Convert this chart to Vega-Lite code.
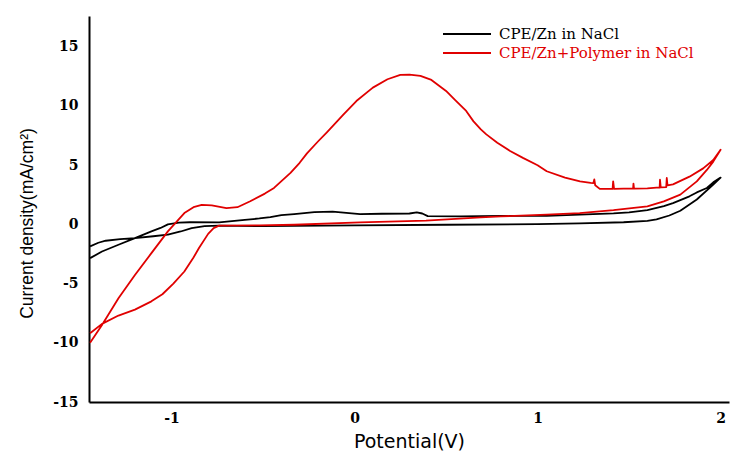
{
  "$schema": "https://vega.github.io/schema/vega-lite/v6.json",
  "autosize": {"type": "none"},
  "padding": {"left": 89, "top": 16, "right": 2, "bottom": 52},
  "width": 640,
  "height": 386,
  "background": "white",
  "config": {"view": {"stroke": null}},
  "datasets": {
    "cv": [
      {"s": "CPE/Zn in NaCl", "x": -1.445, "y": -1.86},
      {"s": "CPE/Zn in NaCl", "x": -1.40, "y": -1.55},
      {"s": "CPE/Zn in NaCl", "x": -1.36, "y": -1.38},
      {"s": "CPE/Zn in NaCl", "x": -1.28, "y": -1.25},
      {"s": "CPE/Zn in NaCl", "x": -1.20, "y": -1.16},
      {"s": "CPE/Zn in NaCl", "x": -1.10, "y": -1.0},
      {"s": "CPE/Zn in NaCl", "x": -1.02, "y": -0.87},
      {"s": "CPE/Zn in NaCl", "x": -0.95, "y": -0.6},
      {"s": "CPE/Zn in NaCl", "x": -0.89, "y": -0.31},
      {"s": "CPE/Zn in NaCl", "x": -0.82, "y": -0.15},
      {"s": "CPE/Zn in NaCl", "x": -0.74, "y": -0.11},
      {"s": "CPE/Zn in NaCl", "x": -0.5, "y": -0.15},
      {"s": "CPE/Zn in NaCl", "x": 0.0, "y": -0.08},
      {"s": "CPE/Zn in NaCl", "x": 0.5, "y": -0.03},
      {"s": "CPE/Zn in NaCl", "x": 1.0, "y": 0.02},
      {"s": "CPE/Zn in NaCl", "x": 1.23, "y": 0.08},
      {"s": "CPE/Zn in NaCl", "x": 1.47, "y": 0.18},
      {"s": "CPE/Zn in NaCl", "x": 1.60, "y": 0.3},
      {"s": "CPE/Zn in NaCl", "x": 1.65, "y": 0.42},
      {"s": "CPE/Zn in NaCl", "x": 1.72, "y": 0.75},
      {"s": "CPE/Zn in NaCl", "x": 1.78, "y": 1.15},
      {"s": "CPE/Zn in NaCl", "x": 1.87, "y": 2.1},
      {"s": "CPE/Zn in NaCl", "x": 1.96, "y": 3.36},
      {"s": "CPE/Zn in NaCl", "x": 2.0, "y": 3.95},
      {"s": "CPE/Zn in NaCl", "x": 1.96, "y": 3.55},
      {"s": "CPE/Zn in NaCl", "x": 1.925, "y": 3.07},
      {"s": "CPE/Zn in NaCl", "x": 1.87, "y": 2.7},
      {"s": "CPE/Zn in NaCl", "x": 1.83, "y": 2.37},
      {"s": "CPE/Zn in NaCl", "x": 1.74, "y": 1.8},
      {"s": "CPE/Zn in NaCl", "x": 1.69, "y": 1.55},
      {"s": "CPE/Zn in NaCl", "x": 1.60, "y": 1.2},
      {"s": "CPE/Zn in NaCl", "x": 1.50, "y": 1.02},
      {"s": "CPE/Zn in NaCl", "x": 1.415, "y": 0.93},
      {"s": "CPE/Zn in NaCl", "x": 1.23, "y": 0.82},
      {"s": "CPE/Zn in NaCl", "x": 1.05, "y": 0.72},
      {"s": "CPE/Zn in NaCl", "x": 0.80, "y": 0.72},
      {"s": "CPE/Zn in NaCl", "x": 0.58, "y": 0.68},
      {"s": "CPE/Zn in NaCl", "x": 0.40, "y": 0.7},
      {"s": "CPE/Zn in NaCl", "x": 0.37, "y": 0.92},
      {"s": "CPE/Zn in NaCl", "x": 0.34, "y": 1.02},
      {"s": "CPE/Zn in NaCl", "x": 0.30, "y": 0.92},
      {"s": "CPE/Zn in NaCl", "x": 0.15, "y": 0.9},
      {"s": "CPE/Zn in NaCl", "x": 0.03, "y": 0.87},
      {"s": "CPE/Zn in NaCl", "x": -0.12, "y": 1.07},
      {"s": "CPE/Zn in NaCl", "x": -0.22, "y": 1.03},
      {"s": "CPE/Zn in NaCl", "x": -0.33, "y": 0.87},
      {"s": "CPE/Zn in NaCl", "x": -0.40, "y": 0.78},
      {"s": "CPE/Zn in NaCl", "x": -0.46, "y": 0.62},
      {"s": "CPE/Zn in NaCl", "x": -0.52, "y": 0.5},
      {"s": "CPE/Zn in NaCl", "x": -0.60, "y": 0.38},
      {"s": "CPE/Zn in NaCl", "x": -0.74, "y": 0.17},
      {"s": "CPE/Zn in NaCl", "x": -0.90, "y": 0.18},
      {"s": "CPE/Zn in NaCl", "x": -0.96, "y": 0.15},
      {"s": "CPE/Zn in NaCl", "x": -1.02, "y": 0.0},
      {"s": "CPE/Zn in NaCl", "x": -1.06, "y": -0.3},
      {"s": "CPE/Zn in NaCl", "x": -1.11, "y": -0.59},
      {"s": "CPE/Zn in NaCl", "x": -1.20, "y": -1.16},
      {"s": "CPE/Zn in NaCl", "x": -1.29, "y": -1.72},
      {"s": "CPE/Zn in NaCl", "x": -1.38, "y": -2.29},
      {"s": "CPE/Zn in NaCl", "x": -1.445, "y": -2.85},
      {"s": "CPE/Zn+Polymer in NaCl", "x": -1.445, "y": -10.0},
      {"s": "CPE/Zn+Polymer in NaCl", "x": -1.38, "y": -8.5},
      {"s": "CPE/Zn+Polymer in NaCl", "x": -1.29, "y": -6.24},
      {"s": "CPE/Zn+Polymer in NaCl", "x": -1.20, "y": -4.27},
      {"s": "CPE/Zn+Polymer in NaCl", "x": -1.11, "y": -2.43},
      {"s": "CPE/Zn+Polymer in NaCl", "x": -1.02, "y": -0.59},
      {"s": "CPE/Zn+Polymer in NaCl", "x": -0.93, "y": 0.96},
      {"s": "CPE/Zn+Polymer in NaCl", "x": -0.88, "y": 1.45},
      {"s": "CPE/Zn+Polymer in NaCl", "x": -0.835, "y": 1.65},
      {"s": "CPE/Zn+Polymer in NaCl", "x": -0.78, "y": 1.6},
      {"s": "CPE/Zn+Polymer in NaCl", "x": -0.70, "y": 1.38},
      {"s": "CPE/Zn+Polymer in NaCl", "x": -0.64, "y": 1.45},
      {"s": "CPE/Zn+Polymer in NaCl", "x": -0.57, "y": 1.95},
      {"s": "CPE/Zn+Polymer in NaCl", "x": -0.49, "y": 2.6},
      {"s": "CPE/Zn+Polymer in NaCl", "x": -0.44, "y": 3.08},
      {"s": "CPE/Zn+Polymer in NaCl", "x": -0.35, "y": 4.35},
      {"s": "CPE/Zn+Polymer in NaCl", "x": -0.30, "y": 5.2},
      {"s": "CPE/Zn+Polymer in NaCl", "x": -0.26, "y": 6.0},
      {"s": "CPE/Zn+Polymer in NaCl", "x": -0.20, "y": 7.0},
      {"s": "CPE/Zn+Polymer in NaCl", "x": -0.15, "y": 7.8},
      {"s": "CPE/Zn+Polymer in NaCl", "x": -0.06, "y": 9.3},
      {"s": "CPE/Zn+Polymer in NaCl", "x": 0.01, "y": 10.42},
      {"s": "CPE/Zn+Polymer in NaCl", "x": 0.10, "y": 11.55},
      {"s": "CPE/Zn+Polymer in NaCl", "x": 0.18, "y": 12.26},
      {"s": "CPE/Zn+Polymer in NaCl", "x": 0.25, "y": 12.63},
      {"s": "CPE/Zn+Polymer in NaCl", "x": 0.30, "y": 12.65},
      {"s": "CPE/Zn+Polymer in NaCl", "x": 0.36, "y": 12.54},
      {"s": "CPE/Zn+Polymer in NaCl", "x": 0.42, "y": 12.2},
      {"s": "CPE/Zn+Polymer in NaCl", "x": 0.50, "y": 11.27},
      {"s": "CPE/Zn+Polymer in NaCl", "x": 0.55, "y": 10.5},
      {"s": "CPE/Zn+Polymer in NaCl", "x": 0.61, "y": 9.58},
      {"s": "CPE/Zn+Polymer in NaCl", "x": 0.65, "y": 8.7},
      {"s": "CPE/Zn+Polymer in NaCl", "x": 0.69, "y": 8.02},
      {"s": "CPE/Zn+Polymer in NaCl", "x": 0.72, "y": 7.6},
      {"s": "CPE/Zn+Polymer in NaCl", "x": 0.78, "y": 6.89},
      {"s": "CPE/Zn+Polymer in NaCl", "x": 0.85, "y": 6.2},
      {"s": "CPE/Zn+Polymer in NaCl", "x": 0.92, "y": 5.62},
      {"s": "CPE/Zn+Polymer in NaCl", "x": 1.0, "y": 5.0},
      {"s": "CPE/Zn+Polymer in NaCl", "x": 1.05, "y": 4.49},
      {"s": "CPE/Zn+Polymer in NaCl", "x": 1.15, "y": 3.95},
      {"s": "CPE/Zn+Polymer in NaCl", "x": 1.232, "y": 3.63},
      {"s": "CPE/Zn+Polymer in NaCl", "x": 1.29, "y": 3.5},
      {"s": "CPE/Zn+Polymer in NaCl", "x": 1.305, "y": 3.49},
      {"s": "CPE/Zn+Polymer in NaCl", "x": 1.31, "y": 3.8},
      {"s": "CPE/Zn+Polymer in NaCl", "x": 1.315, "y": 3.3},
      {"s": "CPE/Zn+Polymer in NaCl", "x": 1.34, "y": 3.0},
      {"s": "CPE/Zn+Polymer in NaCl", "x": 1.41, "y": 3.0},
      {"s": "CPE/Zn+Polymer in NaCl", "x": 1.413, "y": 3.63},
      {"s": "CPE/Zn+Polymer in NaCl", "x": 1.418, "y": 3.0},
      {"s": "CPE/Zn+Polymer in NaCl", "x": 1.47, "y": 3.02},
      {"s": "CPE/Zn+Polymer in NaCl", "x": 1.522, "y": 3.02},
      {"s": "CPE/Zn+Polymer in NaCl", "x": 1.524, "y": 3.45},
      {"s": "CPE/Zn+Polymer in NaCl", "x": 1.527, "y": 3.02},
      {"s": "CPE/Zn+Polymer in NaCl", "x": 1.60, "y": 3.05},
      {"s": "CPE/Zn+Polymer in NaCl", "x": 1.65, "y": 3.1},
      {"s": "CPE/Zn+Polymer in NaCl", "x": 1.667, "y": 3.1},
      {"s": "CPE/Zn+Polymer in NaCl", "x": 1.669, "y": 3.77},
      {"s": "CPE/Zn+Polymer in NaCl", "x": 1.673, "y": 3.12},
      {"s": "CPE/Zn+Polymer in NaCl", "x": 1.703, "y": 3.15},
      {"s": "CPE/Zn+Polymer in NaCl", "x": 1.706, "y": 3.92},
      {"s": "CPE/Zn+Polymer in NaCl", "x": 1.71, "y": 3.3},
      {"s": "CPE/Zn+Polymer in NaCl", "x": 1.74, "y": 3.38},
      {"s": "CPE/Zn+Polymer in NaCl", "x": 1.83, "y": 4.03},
      {"s": "CPE/Zn+Polymer in NaCl", "x": 1.905, "y": 4.73},
      {"s": "CPE/Zn+Polymer in NaCl", "x": 1.96, "y": 5.44},
      {"s": "CPE/Zn+Polymer in NaCl", "x": 2.0, "y": 6.3},
      {"s": "CPE/Zn+Polymer in NaCl", "x": 1.96, "y": 5.3},
      {"s": "CPE/Zn+Polymer in NaCl", "x": 1.925, "y": 4.6},
      {"s": "CPE/Zn+Polymer in NaCl", "x": 1.87, "y": 3.63},
      {"s": "CPE/Zn+Polymer in NaCl", "x": 1.78, "y": 2.51},
      {"s": "CPE/Zn+Polymer in NaCl", "x": 1.69, "y": 1.94},
      {"s": "CPE/Zn+Polymer in NaCl", "x": 1.60, "y": 1.52},
      {"s": "CPE/Zn+Polymer in NaCl", "x": 1.415, "y": 1.2},
      {"s": "CPE/Zn+Polymer in NaCl", "x": 1.23, "y": 0.95},
      {"s": "CPE/Zn+Polymer in NaCl", "x": 1.05, "y": 0.82},
      {"s": "CPE/Zn+Polymer in NaCl", "x": 0.80, "y": 0.68},
      {"s": "CPE/Zn+Polymer in NaCl", "x": 0.69, "y": 0.59},
      {"s": "CPE/Zn+Polymer in NaCl", "x": 0.39, "y": 0.31},
      {"s": "CPE/Zn+Polymer in NaCl", "x": 0.03, "y": 0.17},
      {"s": "CPE/Zn+Polymer in NaCl", "x": -0.33, "y": -0.03},
      {"s": "CPE/Zn+Polymer in NaCl", "x": -0.52, "y": -0.08},
      {"s": "CPE/Zn+Polymer in NaCl", "x": -0.74, "y": -0.11},
      {"s": "CPE/Zn+Polymer in NaCl", "x": -0.77, "y": -0.31},
      {"s": "CPE/Zn+Polymer in NaCl", "x": -0.80, "y": -0.8},
      {"s": "CPE/Zn+Polymer in NaCl", "x": -0.85, "y": -2.0},
      {"s": "CPE/Zn+Polymer in NaCl", "x": -0.88, "y": -2.8},
      {"s": "CPE/Zn+Polymer in NaCl", "x": -0.93, "y": -3.98},
      {"s": "CPE/Zn+Polymer in NaCl", "x": -0.99, "y": -5.0},
      {"s": "CPE/Zn+Polymer in NaCl", "x": -1.05, "y": -5.9},
      {"s": "CPE/Zn+Polymer in NaCl", "x": -1.11, "y": -6.5},
      {"s": "CPE/Zn+Polymer in NaCl", "x": -1.20, "y": -7.2},
      {"s": "CPE/Zn+Polymer in NaCl", "x": -1.29, "y": -7.7},
      {"s": "CPE/Zn+Polymer in NaCl", "x": -1.38, "y": -8.4},
      {"s": "CPE/Zn+Polymer in NaCl", "x": -1.445, "y": -9.2}
    ]
  },
  "layer": [
    {
      "data": {"name": "cv"},
      "mark": {"type": "line", "strokeWidth": 1.8, "strokeJoin": "round"},
      "encoding": {
        "x": {
          "field": "x",
          "type": "quantitative",
          "scale": {"domain": [-1.451, 2.046], "nice": false, "zero": false},
          "axis": {
            "values": [-1, 0, 1, 2],
            "labelExpr": "'' + datum.value",
            "title": "Potential(V)",
            "grid": false,
            "ticks": false,
            "domainColor": "#000000",
            "domainWidth": 2,
            "labelFont": "DejaVu Serif",
            "labelFontWeight": "bold",
            "labelFontSize": 14,
            "labelColor": "#000000",
            "labelPadding": 9,
            "titleFont": "DejaVu Sans",
            "titleFontWeight": "normal",
            "titleFontSize": 19,
            "titleColor": "#000000",
            "titlePadding": 7
          }
        },
        "y": {
          "field": "y",
          "type": "quantitative",
          "scale": {"domain": [-15, 17.6], "nice": false, "zero": false},
          "axis": {
            "values": [-15, -10, -5, 0, 5, 10, 15],
            "labelExpr": "'' + datum.value",
            "title": "Current density(mA/cm²)",
            "grid": false,
            "ticks": false,
            "domainColor": "#000000",
            "domainWidth": 2,
            "labelFont": "DejaVu Serif",
            "labelFontWeight": "bold",
            "labelFontSize": 14,
            "labelColor": "#000000",
            "labelPadding": 11,
            "titleFont": "Liberation Sans",
            "titleFontWeight": "normal",
            "titleFontSize": 17.5,
            "titleColor": "#000000",
            "titleX": -53,
            "titleY": 207
          }
        },
        "color": {
          "field": "s",
          "type": "nominal",
          "scale": {
            "domain": ["CPE/Zn in NaCl", "CPE/Zn+Polymer in NaCl"],
            "range": ["#000000", "#e00000"]
          },
          "legend": {
            "title": null,
            "orient": "none",
            "legendX": 345,
            "legendY": 9,
            "padding": 0,
            "symbolType": "M0,0H6",
            "symbolSize": 256,
            "symbolStrokeWidth": 2,
            "labelOffset": 47,
            "labelFont": "DejaVu Serif",
            "labelFontSize": 15,
            "labelLimit": 400,
            "rowPadding": 2,
            "encode": {
              "labels": {
                "update": {
                  "fill": {"signal": "datum.label === 'CPE/Zn in NaCl' ? '#000000' : '#e00000'"}
                }
              }
            }
          }
        },
        "order": {"value": null}
      }
    },
    {
      "mark": {"type": "rule", "color": "#000000", "strokeWidth": 2},
      "encoding": {"y": {"datum": 17.6}}
    }
  ]
}
